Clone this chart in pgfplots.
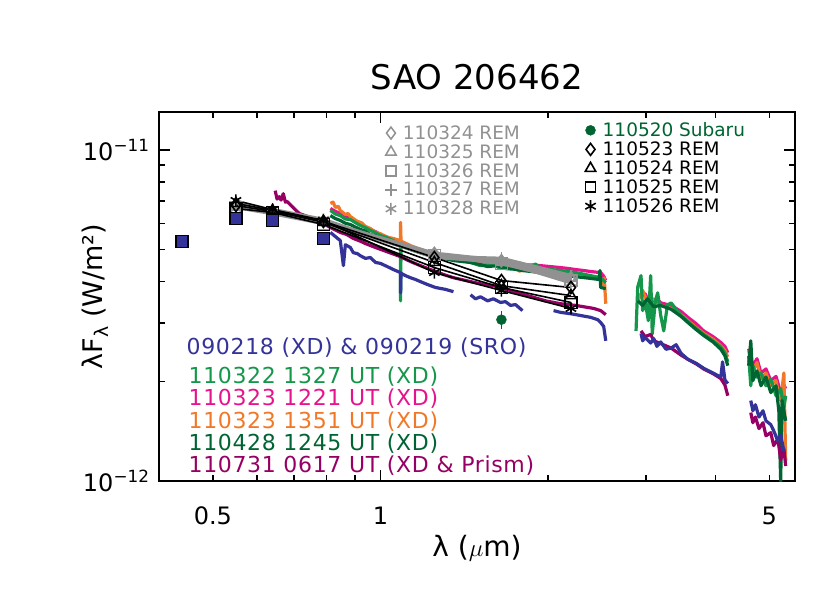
\documentclass[border=0pt]{standalone}
\usepackage{fontspec}
\setmainfont{DejaVu Sans}
\usepackage{pgfplots}
\pgfplotsset{compat=1.18}

\definecolor{cblue}{RGB}{51,51,153}
\definecolor{cgreen}{RGB}{20,150,75}
\definecolor{cpink}{RGB}{230,20,140}
\definecolor{corange}{RGB}{240,120,40}
\definecolor{cdkgreen}{RGB}{0,100,50}
\definecolor{cpurple}{RGB}{150,0,100}
\definecolor{cgray}{RGB}{145,145,145}

\newcommand{\legfont}{\fontsize{22}{22}\selectfont\addfontfeature{LetterSpace=3}}

\pgfplotsset{
  spec/.style={line width=3.2pt, line join=round, forget plot},
  gray rem/.style={cgray, line width=3.5pt, mark size=6pt, mark options={solid, line width=1.5pt}},
  black rem/.style={black, line width=1.6pt, mark size=6pt, mark options={solid, line width=1.6pt}},
  lax/.style={at={(0pt,0pt)}, anchor=south west, scale only axis,
    width=636pt, height=369pt, hide axis, xmin=0, xmax=1, ymin=0, ymax=1,
    legend cell align=left},
}

\begin{document}
\begin{tikzpicture}
\useasboundingbox (-159pt,-112pt) rectangle (671pt,481pt);
\begin{axis}[
  at={(0pt,0pt)}, anchor=south west,
  scale only axis, width=636pt, height=369pt,
  xmode=log, ymode=log,
  xmin=0.4, xmax=5.56, ymin=1e-12, ymax=1.3e-11,
  xtick={1}, xticklabels={1},
  extra x ticks={0.5,5}, extra x tick labels={0.5,5},
  extra x tick style={major tick length=6pt},
  minor xtick={0.6,0.7,0.8,0.9,2,3,4},
  ytick={1e-12,1e-11},
  yticklabels={10\textsuperscript{−12},10\textsuperscript{−11}},
  minor ytick={2e-12,3e-12,4e-12,5e-12,6e-12,7e-12,8e-12,9e-12},
  major tick length=11pt, minor tick length=6pt,
  axis line style={line width=2pt},
  every tick/.style={black, line width=1.5pt},
  tick label style={font=\fontsize{24}{24}\selectfont},
  xticklabel style={yshift=-22pt},
  yticklabel style={xshift=-6pt},
  title={SAO 206462},
  title style={at={(axis description cs:0.5,1.0786)}, anchor=center,
    font=\fontsize{34}{34}\selectfont},
  xlabel={λ ($\mu$m)},
  xlabel style={at={(axis description cs:0.5,-0.1816)}, anchor=center,
    font=\fontsize{28}{28}\selectfont},
  ylabel={λF\textsubscript{λ} (W/m²)},
  ylabel style={at={(axis description cs:-0.1006,0.5)}, anchor=center,
    font=\fontsize{27}{27}\selectfont},
]
% ---- 110323 1221 UT (XD)
\addplot[spec, cpink] coordinates {
(0.813,6.65e-12)(0.830,6.52e-12)(0.847,6.42e-12)(0.865,6.30e-12)(0.883,6.20e-12)
(0.900,6.05e-12)(0.920,5.95e-12)(0.940,5.85e-12)(0.959,5.75e-12)(0.980,5.66e-12)
(1.000,5.55e-12)(1.029,5.45e-12)(1.055,5.36e-12)(1.086,5.25e-12)(1.109,5.17e-12)
(1.140,5.08e-12)(1.180,5.00e-12)(1.215,4.92e-12)(1.256,4.86e-12)(1.309,4.80e-12)
(1.353,4.76e-12)(1.400,4.72e-12)(1.452,4.70e-12)(1.513,4.66e-12)(1.558,4.63e-12)
(1.620,4.60e-12)(1.678,4.57e-12)(1.740,4.54e-12)(1.800,4.50e-12)(1.870,4.49e-12)
(1.940,4.47e-12)(2.020,4.44e-12)(2.108,4.41e-12)(2.180,4.38e-12)(2.243,4.35e-12)
(2.320,4.32e-12)(2.387,4.29e-12)(2.450,4.27e-12)(2.488,4.26e-12)(2.520,4.15e-12)
(2.541,4.03e-12)};
\addplot[spec, cpink] coordinates {
(2.90,3.58e-12)(2.94,3.66e-12)(2.99,3.68e-12)(3.02,3.55e-12)(3.10,3.50e-12)
(3.14,3.56e-12)(3.19,3.45e-12)(3.26,3.42e-12)(3.33,3.39e-12)(3.40,3.32e-12)
(3.47,3.25e-12)(3.57,3.12e-12)(3.69,2.99e-12)(3.81,2.84e-12)(3.96,2.73e-12)
(4.09,2.62e-12)(4.16,2.55e-12)(4.21,2.44e-12)};
\addplot[spec, cpink] coordinates {
(4.59,2.51e-12)(4.67,2.23e-12)(4.75,2.34e-12)(4.83,2.12e-12)(4.93,2.18e-12)
(5.03,2.01e-12)(5.14,2.07e-12)(5.24,1.85e-12)(5.31,1.95e-12)(5.35,1.90e-12)};
% ---- 110323 1351 UT (XD)
\addplot[spec, corange] coordinates {
(0.813,6.89e-12)(0.822,6.95e-12)(0.830,6.70e-12)(0.840,6.75e-12)(0.847,6.56e-12)
(0.865,6.38e-12)(0.875,6.42e-12)(0.883,6.29e-12)(0.909,6.08e-12)(0.925,6.02e-12)
(0.940,5.87e-12)(0.960,5.78e-12)(0.980,5.63e-12)(1.000,5.58e-12)(1.029,5.44e-12)
(1.055,5.40e-12)(1.086,5.32e-12)(1.087,6.04e-12)(1.089,5.30e-12)(1.132,5.14e-12)
(1.180,5.00e-12)(1.215,4.90e-12)(1.256,4.82e-12)(1.309,4.73e-12)(1.353,4.70e-12)
(1.452,4.63e-12)(1.513,4.57e-12)(1.596,4.54e-12)(1.713,4.47e-12)(1.780,4.30e-12)
(1.786,4.55e-12)(1.838,4.38e-12)(1.981,4.32e-12)(2.108,4.26e-12)(2.243,4.20e-12)
(2.417,4.14e-12)(2.488,4.09e-12)(2.519,3.89e-12)(2.525,4.10e-12)(2.541,3.43e-12)};
\addplot[spec, corange] coordinates {
(2.90,3.50e-12)(2.96,3.76e-12)(3.02,3.46e-12)(3.10,3.55e-12)(3.19,3.39e-12)
(3.33,3.32e-12)(3.47,3.18e-12)(3.57,3.05e-12)(3.69,2.91e-12)(3.81,2.79e-12)
(3.96,2.68e-12)(4.09,2.56e-12)(4.16,2.48e-12)(4.21,2.37e-12)};
\addplot[spec, corange] coordinates {
(4.59,2.48e-12)(4.67,2.15e-12)(4.75,2.28e-12)(4.83,2.03e-12)(4.93,2.12e-12)
(5.03,1.94e-12)(5.14,2.01e-12)(5.20,1.81e-12)(5.24,1.75e-12)(5.31,2.12e-12)
(5.35,1.15e-12)};
% ---- 110322 1327 UT (XD)
\addplot[spec, cgreen] coordinates {
(0.813,6.56e-12)(0.830,6.40e-12)(0.847,6.33e-12)(0.865,6.18e-12)(0.883,6.16e-12)
(0.909,5.98e-12)(0.920,5.91e-12)(0.940,5.82e-12)(0.959,5.71e-12)(0.980,5.62e-12)
(1.000,5.51e-12)(1.029,5.42e-12)(1.055,5.32e-12)(1.086,5.14e-12)(1.087,3.50e-12)
(1.089,5.12e-12)(1.132,5.07e-12)(1.180,4.93e-12)(1.256,4.79e-12)(1.353,4.70e-12)
(1.452,4.57e-12)(1.513,4.47e-12)(1.596,4.50e-12)(1.644,4.38e-12)(1.713,4.44e-12)
(1.800,4.32e-12)(1.901,4.52e-12)(1.940,4.38e-12)(2.022,4.35e-12)(2.108,4.32e-12)
(2.243,4.26e-12)(2.387,4.17e-12)(2.488,4.11e-12)(2.541,3.97e-12)};
\addplot[spec, cgreen] coordinates {
(2.88,2.84e-12)(2.90,3.85e-12)(2.94,4.17e-12)(2.96,3.27e-12)(2.99,3.50e-12)
(3.03,3.05e-12)(3.06,4.17e-12)(3.08,2.78e-12)(3.12,3.50e-12)(3.15,3.70e-12)
(3.19,3.16e-12)(3.23,2.84e-12)(3.28,3.40e-12)(3.33,3.45e-12)(3.47,3.16e-12)
(3.57,3.03e-12)(3.69,2.89e-12)(3.81,2.77e-12)(3.96,2.65e-12)(4.09,2.54e-12)
(4.16,2.44e-12)(4.21,2.29e-12)};
\addplot[spec, cgreen] coordinates {
(4.59,2.39e-12)(4.63,1.94e-12)(4.67,2.23e-12)(4.75,2.06e-12)(4.83,2.12e-12)
(4.93,1.94e-12)(5.03,2.03e-12)(5.14,1.81e-12)(5.24,1.90e-12)(5.31,1.67e-12)
(5.35,1.81e-12)};
% ---- 110428 1245 UT (XD)
\addplot[spec, cdkgreen] coordinates {
(0.813,6.33e-12)(0.830,6.20e-12)(0.847,6.12e-12)(0.865,6.00e-12)(0.883,5.95e-12)
(0.900,5.85e-12)(0.920,5.75e-12)(0.940,5.68e-12)(0.959,5.55e-12)(0.980,5.50e-12)
(1.000,5.40e-12)(1.029,5.30e-12)(1.055,5.21e-12)(1.109,5.07e-12)(1.140,4.98e-12)
(1.180,4.89e-12)(1.256,4.73e-12)(1.300,4.70e-12)(1.353,4.63e-12)(1.452,4.57e-12)
(1.513,4.50e-12)(1.558,4.44e-12)(1.620,4.47e-12)(1.678,4.38e-12)(1.740,4.36e-12)
(1.800,4.32e-12)(1.940,4.26e-12)(2.022,4.23e-12)(2.108,4.20e-12)(2.243,4.14e-12)
(2.387,4.09e-12)(2.470,4.06e-12)(2.480,4.32e-12)(2.488,3.84e-12)(2.541,3.81e-12)};
\addplot[spec, cdkgreen] coordinates {
(2.90,3.50e-12)(2.96,3.39e-12)(3.02,3.55e-12)(3.10,3.36e-12)(3.19,3.39e-12)
(3.33,3.30e-12)(3.47,3.14e-12)(3.57,3.01e-12)(3.69,2.87e-12)(3.81,2.75e-12)
(3.96,2.63e-12)(4.09,2.50e-12)(4.16,2.39e-12)(4.21,2.23e-12)};
\addplot[spec, cdkgreen] coordinates {
(4.59,2.23e-12)(4.63,2.65e-12)(4.67,2.01e-12)(4.75,2.15e-12)(4.83,1.94e-12)
(4.93,2.06e-12)(5.03,1.85e-12)(5.14,1.94e-12)(5.20,1.63e-12)(5.24,1.00e-12)
(5.27,1.75e-12)(5.35,1.52e-12)};
% ---- 110731 0617 UT (XD & Prism)
\addplot[spec, cpurple] coordinates {
(0.647,7.53e-12)(0.652,7.10e-12)(0.658,7.22e-12)(0.663,7.05e-12)(0.669,7.37e-12)
(0.675,6.95e-12)(0.680,6.98e-12)(0.691,6.79e-12)(0.703,6.60e-12)(0.715,6.42e-12)
(0.748,6.25e-12)(0.780,6.04e-12)(0.813,5.83e-12)(0.847,5.63e-12)(0.870,5.55e-12)
(0.894,5.40e-12)(0.920,5.30e-12)(0.940,5.21e-12)(0.980,5.07e-12)(1.029,4.92e-12)
(1.086,4.76e-12)(1.132,4.60e-12)(1.180,4.47e-12)(1.256,4.29e-12)(1.300,4.20e-12)
(1.353,4.11e-12)(1.452,4.00e-12)(1.513,3.94e-12)(1.596,3.89e-12)(1.713,3.76e-12)
(1.838,3.63e-12)(1.981,3.50e-12)(2.108,3.43e-12)(2.243,3.39e-12)(2.417,3.32e-12)
(2.488,3.27e-12)(2.541,3.18e-12)};
\addplot[spec, cpurple] coordinates {
(2.94,2.84e-12)(2.99,2.73e-12)(3.06,2.77e-12)(3.10,2.65e-12)(3.19,2.60e-12)
(3.33,2.52e-12)(3.47,2.40e-12)(3.57,2.33e-12)(3.69,2.26e-12)(3.81,2.18e-12)
(3.96,2.11e-12)(4.09,2.04e-12)(4.16,1.95e-12)(4.21,1.81e-12)};
\addplot[spec, cpurple] coordinates {
(4.63,1.61e-12)(4.67,1.50e-12)(4.72,1.56e-12)(4.79,1.44e-12)(4.87,1.50e-12)
(4.93,1.37e-12)(5.03,1.40e-12)(5.09,1.28e-12)(5.18,1.34e-12)(5.24,1.16e-12)
(5.31,1.25e-12)(5.35,1.11e-12)};
% ---- 090218 (XD) & 090219 (SRO)
\addplot[spec, cblue] coordinates {
(0.813,5.63e-12)(0.830,5.47e-12)(0.847,5.32e-12)(0.858,4.47e-12)(0.865,5.17e-12)
(0.883,5.07e-12)(0.894,4.89e-12)(0.909,4.86e-12)(0.920,4.79e-12)(0.940,4.70e-12)
(0.959,4.73e-12)(0.980,4.57e-12)(1.000,4.54e-12)(1.029,4.44e-12)(1.055,4.35e-12)
(1.086,4.26e-12)(1.087,3.70e-12)(1.089,4.24e-12)(1.109,4.17e-12)(1.132,4.11e-12)
(1.156,4.06e-12)(1.180,4.00e-12)(1.215,3.92e-12)(1.256,3.84e-12)(1.309,3.79e-12)
(1.353,3.73e-12)};
\addplot[spec, cblue] coordinates {
(1.452,3.65e-12)(1.482,3.55e-12)(1.513,3.60e-12)(1.558,3.50e-12)(1.596,3.55e-12)
(1.644,3.46e-12)(1.678,3.48e-12)(1.713,3.39e-12)(1.749,3.41e-12)(1.800,3.27e-12)};
\addplot[spec, cblue] coordinates {
(2.047,3.27e-12)(2.108,3.23e-12)(2.197,3.20e-12)(2.290,3.16e-12)(2.387,3.12e-12)
(2.458,3.07e-12)(2.488,3.01e-12)(2.519,2.93e-12)(2.541,2.65e-12)};
\addplot[spec, cblue] coordinates {
(2.94,2.79e-12)(2.96,2.65e-12)(2.99,2.71e-12)(3.06,2.61e-12)(3.10,2.69e-12)
(3.14,2.55e-12)(3.19,2.63e-12)(3.26,2.50e-12)(3.33,2.52e-12)(3.40,2.58e-12)
(3.47,2.43e-12)(3.57,2.33e-12)(3.69,2.27e-12)(3.81,2.19e-12)(3.96,2.12e-12)
(4.09,2.06e-12)(4.12,2.29e-12)(4.16,2.02e-12)(4.21,1.97e-12)};
\addplot[spec, cblue] coordinates {
(4.63,1.75e-12)(4.67,1.63e-12)(4.72,1.70e-12)(4.79,1.56e-12)(4.87,1.63e-12)
(4.93,1.52e-12)(5.03,1.48e-12)(5.09,1.42e-12)(5.18,1.32e-12)(5.24,1.38e-12)
(5.31,1.23e-12)};
% ---- REM photometry, March (gray)
\addplot[gray rem, mark=diamond, forget plot] coordinates {
(0.55,6.79e-12)(0.64,6.51e-12)(0.79,6.08e-12)(1.25,4.87e-12)(1.65,4.63e-12)(2.2,4.11e-12)};
\addplot[gray rem, mark=triangle, forget plot] coordinates {
(0.55,6.74e-12)(0.64,6.47e-12)(0.79,6.04e-12)(1.25,4.82e-12)(1.65,4.57e-12)(2.2,4.09e-12)};
\addplot[gray rem, mark=square, forget plot] coordinates {
(0.55,6.70e-12)(0.64,6.42e-12)(0.79,5.99e-12)(1.25,4.79e-12)(1.65,4.54e-12)(2.2,4.03e-12)};
\addplot[gray rem, mark=+, forget plot] coordinates {
(0.55,6.89e-12)(0.64,6.56e-12)(0.79,6.12e-12)(1.25,4.76e-12)(1.65,4.70e-12)(2.2,4.17e-12)};
\addplot[gray rem, mark=asterisk, forget plot] coordinates {
(0.55,6.65e-12)(0.64,6.60e-12)(0.79,6.16e-12)(1.25,4.73e-12)(1.65,4.60e-12)(2.2,3.97e-12)};
% ---- REM photometry, May (black)
\addplot[black rem, mark=diamond, forget plot] coordinates {
(0.55,6.79e-12)(0.64,6.51e-12)(0.79,6.08e-12)(1.25,4.73e-12)(1.65,4.03e-12)(2.2,3.84e-12)};
\addplot[black rem, mark=triangle, forget plot] coordinates {
(0.55,6.89e-12)(0.64,6.56e-12)(0.79,6.04e-12)(1.25,4.57e-12)(1.65,3.89e-12)(2.2,3.63e-12)};
\addplot[black rem, mark=square, forget plot] coordinates {
(0.55,6.65e-12)(0.64,6.47e-12)(0.79,5.95e-12)(1.25,4.41e-12)(1.65,3.84e-12)(2.2,3.46e-12)};
\addplot[black rem, mark=asterisk, forget plot] coordinates {
(0.55,7.03e-12)(0.64,6.60e-12)(0.79,6.12e-12)(1.25,4.26e-12)(1.65,3.76e-12)(2.2,3.32e-12)};
% ---- Subaru
\addplot[cdkgreen, only marks, mark=*, mark size=5pt, forget plot,
  error bars/.cd, y dir=both, y explicit, error mark=none,
  error bar style={line width=1.5pt}] coordinates {
(1.65,3.07e-12) +- (0,0.2e-12)};
% ---- optical photometry
\addplot[only marks, mark=square*, mark size=6pt, forget plot,
  mark options={fill=cblue, draw=black, line width=1.6pt}] coordinates {
(0.44,5.28e-12)(0.55,6.20e-12)(0.64,6.12e-12)(0.79,5.40e-12)};

\node[anchor=base west, text=cblue, font=\legfont]
  at (rel axis cs:0.038,0.3428) {090218 (XD) \& 090219 (SRO)};
\node[anchor=base west, text=cgreen, font=\legfont]
  at (rel axis cs:0.041,0.2656) {110322 1327 UT (XD)};
\node[anchor=base west, text=cpink, font=\legfont]
  at (rel axis cs:0.041,0.2060) {110323 1221 UT (XD)};
\node[anchor=base west, text=corange, font=\legfont]
  at (rel axis cs:0.041,0.1436) {110323 1351 UT (XD)};
\node[anchor=base west, text=cdkgreen, font=\legfont]
  at (rel axis cs:0.041,0.0840) {110428 1245 UT (XD)};
\node[anchor=base west, text=cpurple, font=\legfont]
  at (rel axis cs:0.041,0.0244) {110731 0617 UT (XD \& Prism)};
\end{axis}

\begin{axis}[lax,
  legend style={at={(0.355,0.964)}, anchor=north west, draw=none, fill=none,
    inner sep=0pt, row sep=3.7pt, text=cgray,
    font=\fontsize{18.5}{18.5}\selectfont, nodes={inner sep=0pt},
    /tikz/every odd column/.style={column sep=6pt}}]
\addlegendimage{only marks, mark=diamond, cgray, mark size=6pt, line width=1.5pt}
\addlegendentry{110324 REM}
\addlegendimage{only marks, mark=triangle, cgray, mark size=6pt, line width=1.5pt}
\addlegendentry{110325 REM}
\addlegendimage{only marks, mark=square, cgray, mark size=5pt, line width=1.5pt}
\addlegendentry{110326 REM}
\addlegendimage{only marks, mark=+, cgray, mark size=6pt, line width=1.5pt}
\addlegendentry{110327 REM}
\addlegendimage{only marks, mark=asterisk, cgray, mark size=6pt, line width=1.5pt}
\addlegendentry{110328 REM}
\end{axis}

\begin{axis}[lax,
  legend style={at={(0.670,0.972)}, anchor=north west, draw=none, fill=none,
    inner sep=0pt, row sep=3.7pt,
    font=\fontsize{18.5}{18.5}\selectfont, nodes={inner sep=0pt},
    /tikz/every odd column/.style={column sep=7pt}}]
\addlegendimage{only marks, mark=*, cdkgreen, mark size=5pt}
\addlegendentry{\textcolor{cdkgreen}{110520 Subaru}}
\addlegendimage{only marks, mark=diamond, black, mark size=6pt, line width=1.6pt}
\addlegendentry{110523 REM}
\addlegendimage{only marks, mark=triangle, black, mark size=6pt, line width=1.6pt}
\addlegendentry{110524 REM}
\addlegendimage{only marks, mark=square, black, mark size=5pt, line width=1.6pt}
\addlegendentry{110525 REM}
\addlegendimage{only marks, mark=asterisk, black, mark size=6pt, line width=1.6pt}
\addlegendentry{110526 REM}
\end{axis}
\end{tikzpicture}
\end{document}
